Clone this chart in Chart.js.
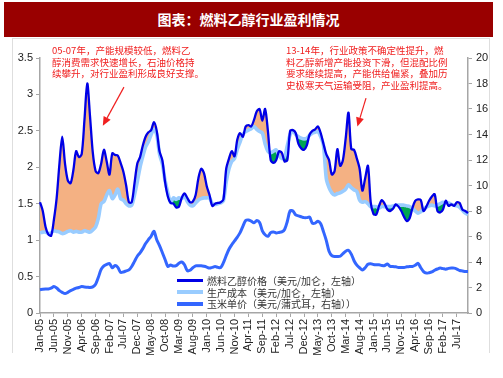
<!DOCTYPE html>
<html><head><meta charset="utf-8">
<script src="https://cdn.jsdelivr.net/npm/chart.js@4/dist/chart.umd.min.js"></script>
<style>
html,body{margin:0;padding:0;background:#fff;width:503px;height:378px;overflow:hidden}
#wrap{position:relative;width:503px;height:378px}
#frame{position:absolute;left:12px;top:38px;width:476px;height:314px;border:1px solid #dedede;border-bottom:none}
canvas{position:absolute;left:0;top:0}
#title{position:absolute;left:4px;top:2px;width:489px;height:35px;background:#990000;color:#fff;font-family:"Noto Sans CJK SC";font-weight:bold;font-size:14px;line-height:35px;text-align:center}
.note{position:absolute;color:#f02020;font-family:"Noto Sans CJK SC";font-size:9.5px;line-height:11.5px;white-space:pre}
#legend{position:absolute;left:177px;top:275px;font-family:"Noto Sans CJK SC";font-size:10px;color:#333}
.lg{display:flex;align-items:center;height:11.5px;white-space:nowrap}
.lg i{display:inline-block;width:26px;margin-right:4px}
</style></head>
<body><div id="wrap">
<div id="frame"></div>
<canvas id="c" width="503" height="378"></canvas>
<div id="title">图表：燃料乙醇行业盈利情况</div>
<div class="note" style="left:52px;top:45px">05-07年，产能规模较低，燃料乙
醇消费需求快速增长，石油价格持
续攀升，对行业盈利形成良好支撑。</div>
<div class="note" style="left:286px;top:45px;line-height:11.7px">13-14年，行业政策不确定性提升，燃
料乙醇新增产能投资下滑，但混配比例
要求继续提高，产能供给偏紧，叠加历
史极寒天气运输受阻，产业盈利提高。</div>
<div id="legend"></div>
</div>
<script>
const monthNames = ['Jan','Feb','Mar','Apr','May','Jun','Jul','Aug','Sep','Oct','Nov','Dec'];
const months = [];
for (let i = 0; i < 155; i++) {
  months.push(monthNames[i % 12] + '-' + String(5 + Math.floor(i / 12)).padStart(2, '0'));
}
const seriesNames = ['燃料乙醇价格（美元/加仑，左轴）', '生产成本（美元/加仑，左轴）', '玉米单价（美元/蒲式耳，右轴））'];

const ethanol = [1.52,1.40,1.18,1.08,1.06,1.28,1.58,2.05,2.42,2.05,
 1.82,1.78,1.96,2.22,2.14,2.18,2.65,3.15,2.70,2.20,
 1.95,1.92,2.05,2.24,2.08,1.90,2.19,2.17,2.16,2.06,
 1.94,1.75,1.52,1.52,1.78,2.05,2.14,2.30,2.42,2.48,
 2.51,2.62,2.50,2.22,2.10,1.80,1.60,1.51,1.50,1.45,
 1.46,1.58,1.64,1.58,1.52,1.53,1.62,1.85,1.98,1.92,
 1.74,1.62,1.47,1.50,1.51,1.52,1.56,1.98,2.12,2.22,
 2.15,2.38,2.47,2.42,2.56,2.58,2.56,2.65,2.77,2.80,
 2.64,2.80,2.50,2.10,2.06,2.10,2.22,2.20,2.08,2.10,
 2.50,2.51,2.47,2.32,2.26,2.24,2.30,2.45,2.50,2.52,
 2.56,2.47,2.32,2.18,2.10,1.90,1.95,2.25,2.02,2.10,
 2.40,2.75,2.25,2.24,2.12,1.98,1.68,1.85,2.02,1.52,
 1.36,1.35,1.47,1.55,1.50,1.42,1.40,1.43,1.49,1.46,
 1.40,1.32,1.26,1.30,1.44,1.54,1.56,1.55,1.40,1.46,
 1.54,1.60,1.63,1.40,1.38,1.42,1.54,1.47,1.49,1.47,
 1.52,1.51,1.42,1.40,1.37];

const cost = [1.10,1.11,1.11,1.09,1.10,1.13,1.12,1.11,1.09,1.10,
 1.12,1.13,1.11,1.12,1.11,1.11,1.13,1.12,1.11,1.14,
 1.18,1.30,1.50,1.53,1.62,1.68,1.57,1.62,1.70,1.57,
 1.55,1.50,1.47,1.48,1.62,1.80,2.00,2.15,2.28,2.35,
 2.45,2.52,2.45,2.18,2.05,1.82,1.65,1.52,1.58,1.56,
 1.58,1.57,1.60,1.53,1.48,1.47,1.51,1.55,1.57,1.58,
 1.58,1.58,1.50,1.49,1.50,1.51,1.54,1.80,1.98,2.08,
 2.12,2.25,2.35,2.45,2.49,2.51,2.53,2.56,2.52,2.49,
 2.47,2.32,2.22,2.20,2.22,2.24,2.16,2.12,2.14,2.30,
 2.45,2.50,2.45,2.42,2.40,2.39,2.40,2.44,2.47,2.48,
 2.49,2.42,2.30,1.85,1.72,1.65,1.62,1.64,1.65,1.67,
 1.70,1.76,1.72,1.69,1.67,1.55,1.52,1.53,1.50,1.46,
 1.46,1.46,1.44,1.46,1.46,1.46,1.46,1.47,1.48,1.48,
 1.48,1.48,1.47,1.46,1.44,1.40,1.37,1.39,1.42,1.45,
 1.47,1.48,1.47,1.48,1.50,1.52,1.51,1.51,1.49,1.48,
 1.47,1.45,1.41,1.37,1.35];

const corn = [1.83,1.86,1.88,1.89,1.95,2.07,1.96,1.75,1.62,1.52,
 1.62,1.76,1.85,1.95,2.00,2.07,2.04,2.02,2.00,2.05,
 2.25,2.80,3.42,3.70,3.82,3.88,3.55,3.72,3.58,3.18,
 3.22,3.30,3.38,3.65,4.05,4.45,4.72,5.05,5.45,5.75,
 6.02,6.40,5.75,5.28,4.75,4.20,3.66,3.76,3.68,3.72,
 3.90,4.00,3.78,3.32,3.35,3.55,3.70,3.70,3.70,3.66,
 3.60,3.52,3.58,3.64,3.58,3.56,3.95,4.50,5.00,5.35,
 5.65,5.95,6.30,6.80,7.25,7.30,7.20,7.08,7.25,7.10,
 6.45,6.14,6.02,6.30,6.35,6.28,6.32,6.36,6.55,7.20,
 8.02,8.00,7.70,7.62,7.55,7.48,7.48,7.52,7.05,7.05,
 7.19,7.00,6.38,5.70,4.85,4.50,4.43,4.43,4.45,4.65,
 4.85,4.92,4.62,4.10,3.75,3.55,3.38,3.55,3.82,3.86,
 3.80,3.78,3.78,3.72,3.72,3.84,3.65,3.65,3.62,3.57,
 3.57,3.57,3.62,3.65,3.65,3.74,3.90,3.55,3.25,3.13,
 3.16,3.22,3.35,3.45,3.52,3.48,3.44,3.50,3.52,3.52,
 3.45,3.33,3.30,3.25,3.25];

const leftTicks = [0, 0.5, 1, 1.5, 2, 2.5, 3, 3.5];
const rightTicks = [0, 2, 4, 6, 8, 10, 12, 14, 16, 18, 20];
// annotation arrows: [monthIndex, leftAxisValue]
const arrowSpecs = [
  {from: [30.2, 3.10], to: [22.6, 2.57]},
  {from: [117.3, 2.95], to: [114.2, 2.56]}
];

const colors = ['#0000e6', '#99ccff', '#3366ff'];
const widths = [3, 4, 3.5];

// legend
const lg = document.getElementById('legend');
seriesNames.forEach((n, k) => {
  const row = document.createElement('div');
  row.className = 'lg';
  row.innerHTML = '<i style="height:' + widths[k] + 'px;background:' + colors[k] + '"></i><span>' + n + '</span>';
  lg.appendChild(row);
});

const arrowPlugin = {
  id: 'arrows',
  afterDraw(chart) {
    const xs = chart.scales.x, ys = chart.scales.y, ctx = chart.ctx;
    ctx.save();
    ctx.strokeStyle = '#f02020';
    ctx.fillStyle = '#f02020';
    ctx.lineWidth = 1.2;
    arrowSpecs.forEach(a => {
      const x1 = xs.getPixelForValue(a.from[0]), y1 = ys.getPixelForValue(a.from[1]);
      const x2 = xs.getPixelForValue(a.to[0]), y2 = ys.getPixelForValue(a.to[1]);
      const ang = Math.atan2(y2 - y1, x2 - x1);
      const hl = 9, hw = 4;
      const bx = x2 - hl * Math.cos(ang), by = y2 - hl * Math.sin(ang);
      ctx.beginPath(); ctx.moveTo(x1, y1); ctx.lineTo(bx, by); ctx.stroke();
      ctx.beginPath();
      ctx.moveTo(x2, y2);
      ctx.lineTo(bx + hw * Math.sin(ang), by - hw * Math.cos(ang));
      ctx.lineTo(bx - hw * Math.sin(ang), by + hw * Math.cos(ang));
      ctx.closePath(); ctx.fill();
    });
    ctx.restore();
  }
};

const axisColor = '#a6a6a6';
const tickFont = {family: '"Liberation Sans", Arial, sans-serif', size: 11};

new Chart(document.getElementById('c'), {
  type: 'line',
  data: {
    labels: months,
    datasets: [
      {label: seriesNames[0], data: ethanol, borderColor: colors[0], borderWidth: 2.3, pointRadius: 0, tension: 0.3, yAxisID: 'y',
       fill: {target: 1, above: '#f4b183', below: '#00a651'}, order: 0},
      {label: seriesNames[1], data: cost, borderColor: colors[1], borderWidth: 3.6, pointRadius: 0, tension: 0.3, yAxisID: 'y', fill: false, order: 1},
      {label: seriesNames[2], data: corn, borderColor: colors[2], borderWidth: 3, pointRadius: 0, tension: 0.3, yAxisID: 'y1', fill: false, order: 2}
    ]
  },
  options: {
    responsive: false,
    animation: false,
    layout: {padding: {top: 58, left: 0, right: 0, bottom: 0}},
    plugins: {legend: {display: false}, tooltip: {enabled: false}, filler: {drawTime: 'beforeDatasetsDraw'}},
    scales: {
      x: {
        type: 'category', offset: false,
        border: {display: true, color: axisColor, width: 1.5},
        grid: {display: true, drawOnChartArea: false, drawTicks: true, tickLength: 4,
               color: c => (c.index % 5 === 0 ? axisColor : 'rgba(0,0,0,0)')},
        ticks: {autoSkip: false, maxRotation: 90, minRotation: 90, padding: 2, color: '#222', font: tickFont,
                callback: (v, i) => (i % 5 === 0 ? months[i] : '')},
        afterFit: s => { s.height = 65; }
      },
      y: {
        position: 'left', min: 0, max: 3.5,
        border: {display: true, color: axisColor, width: 1.5},
        grid: {drawOnChartArea: false, drawTicks: true, tickLength: 4, color: axisColor},
        afterBuildTicks: s => { s.ticks = leftTicks.map(v => ({value: v})); },
        ticks: {padding: 3, color: '#222', font: tickFont, callback: v => String(v)},
        afterFit: s => { s.width = 40; }
      },
      y1: {
        position: 'right', min: 0, max: 20,
        border: {display: true, color: axisColor, width: 1.5},
        grid: {drawOnChartArea: false, drawTicks: true, tickLength: 4, color: axisColor},
        afterBuildTicks: s => { s.ticks = rightTicks.map(v => ({value: v})); },
        ticks: {padding: 4, color: '#222', font: tickFont, callback: v => String(v)},
        afterFit: s => { s.width = 35; }
      }
    }
  },
  plugins: [arrowPlugin]
});
</script>
</body></html>
